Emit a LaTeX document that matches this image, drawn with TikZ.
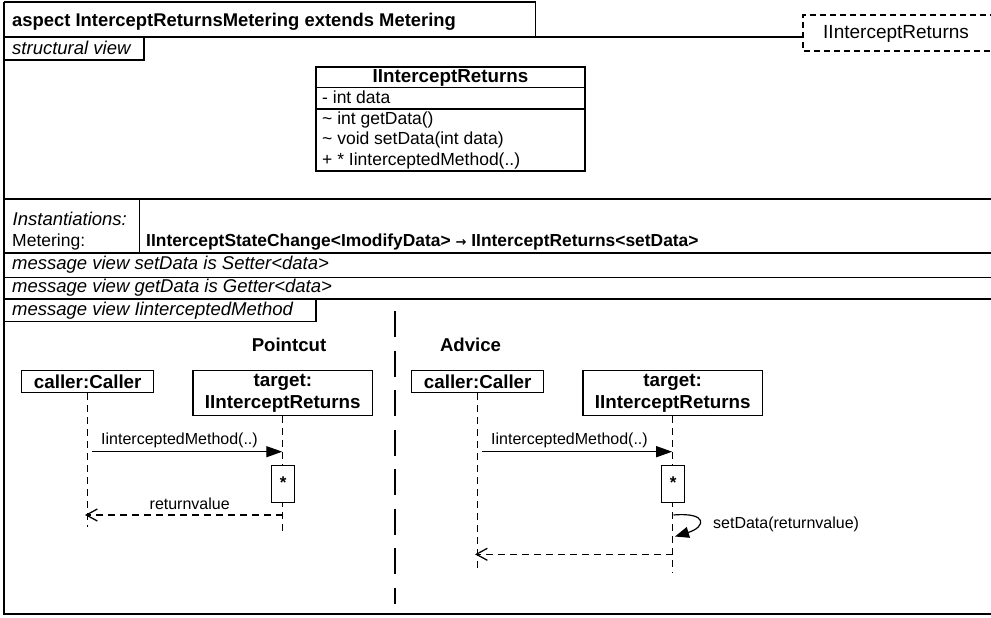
\documentclass[tikz,border=0pt]{standalone}
\usepackage{fontspec}
\setmainfont{Liberation Sans}
\newfontfamily\symfont{DejaVu Sans}
\usetikzlibrary{arrows.meta}
\begin{document}
\begin{tikzpicture}[x=1pt,y=-1pt,
  frame/.style={line width=1.3pt, draw=black},
  thick frame/.style={line width=2pt, draw=black},
  txt/.style={inner sep=0pt, anchor=base west},
  ctxt/.style={inner sep=0pt, anchor=base},
  itl/.style={txt, font=\fontsize{18.5}{22}\selectfont\itshape},
  boldtitle/.style={txt, font=\fontsize{18.4}{22}\selectfont\bfseries},
  clsrow/.style={txt, font=\fontsize{17.5}{21}\selectfont},
  heading/.style={ctxt, font=\fontsize{18.6}{22}\selectfont\bfseries},
  objbox/.style={draw, line width=1.3pt, fill=white, inner sep=0pt, align=center,
     font=\fontsize{18.8}{21.5}\selectfont\bfseries},
  actbox/.style={draw, line width=1.3pt, fill=white, inner sep=0pt, minimum width=23pt, minimum height=36.6pt},
  startxt/.style={ctxt, font=\fontsize{17}{19}\selectfont\bfseries},
  msglbl/.style={ctxt, font=\fontsize{16}{19}\selectfont},
  life/.style={line width=1.2pt, dash pattern=on 7pt off 5pt},
  msg/.style={line width=1.2pt, -{Triangle[length=16pt,width=11pt]}},
  ret/.style={line width=1.2pt, dash pattern=on 7pt off 5pt, -{Straight Barb[length=11pt,width=12pt,line width=1.3pt]}},
  divider/.style={line width=1.6pt, dash pattern=on 26pt off 13.5pt}
]
\useasboundingbox (0,0) rectangle (991,618);
\clip (0,0) rectangle (991,618);

% ---------- outer frame and compartments ----------
\draw[frame] (4,2) -- (535.5,2) -- (535.5,37);
\draw[frame] (4,2) -- (4,614) -- (995,614);
\draw[frame] (4,37) -- (803,37);
\draw[line width=1.3pt, dash pattern=on 6pt off 4pt] (996,15) -- (803,15) -- (803,51) -- (996,51);
\draw[frame] (4,60) -- (144,60) -- (144,37);
\draw[frame] (4,199) -- (996,199);
\draw[frame] (139.5,199) -- (139.5,253);
\draw[thick frame] (4,253) -- (996,253);
\draw[frame] (4,277.5) -- (996,277.5);
\draw[frame] (4,299) -- (996,299);
\draw[frame] (4,321.5) -- (316,321.5) -- (316,299);

% ---------- texts of the frame ----------
\node[boldtitle] (title) at (12,26.5) {aspect InterceptReturnsMetering extends Metering};
\node[txt, font=\fontsize{19}{22}\selectfont] (param) at (823,39) {IInterceptReturns};
\node[itl] (structview) at (12,54.5) {structural view};

% ---------- class box ----------
\node[draw, line width=1.3pt, inner sep=0pt, minimum width=269pt, minimum height=104pt] (cls) at (450.5,119) {};
\draw[frame] (316,87.5) -- (585,87.5);
\draw[frame] (316,109) -- (585,109);
\node[ctxt, font=\fontsize{18.8}{22}\selectfont\bfseries] (clsname) at (450.5,82.5) {IInterceptReturns};
\node[clsrow] (attr) at (322,103.5) {- int data};
\node[clsrow] (op1) at (322,124.5) {\textasciitilde{} int getData()};
\node[clsrow] (op2) at (322,144.5) {\textasciitilde{} void setData(int data)};
\node[clsrow] (op3) at (322,165) {+ * IinterceptedMethod(..)};

% ---------- instantiations ----------
\node[itl] (inst) at (12.5,225.3) {Instantiations:};
\node[txt, font=\fontsize{17.5}{21}\selectfont] (meter) at (12,246.3) {Metering:};
\node[txt, font=\fontsize{17.4}{21}\selectfont\bfseries] (mapping) at (146,246.3)
  {IInterceptStateChange<ImodifyData> {\symfont\fontsize{13}{15}\selectfont →} IInterceptReturns<setData>};

% ---------- message views ----------
\node[itl] (mv1) at (12,269.7) {message view setData is Setter<data>};
\node[itl] (mv2) at (12,292) {message view getData is Getter<data>};
\node[itl] (mv3) at (12,315.5) {message view IinterceptedMethod};

\coordinate (divtop) at (395,311);
\coordinate (divbot) at (395,604);
\draw[divider] (divtop) -- (divbot);

\node[heading] (pointcut) at (289,351.6) {Pointcut};
\node[heading] (advice) at (470.5,351.6) {Advice};

% ---------- pointcut sequence ----------
\node[objbox, minimum width=132pt, minimum height=22pt] (pcaller) at (87.7,381.7) {caller:Caller};
\node[objbox, minimum width=179.7pt, minimum height=45pt] (ptarget) at (282.8,393.2) {target:\\IInterceptReturns};
\coordinate (pcallerend) at (87.7,527);
\coordinate (ptargetend) at (282.8,531);
\draw[life] (pcaller.south) -- (pcallerend);
\draw[life] (ptarget.south) -- (ptargetend);
\node[actbox] (pact) at (283.2,484) {};
\node[startxt] (pstar) at (283.2,488.5) {*};
\coordinate (pm1s) at (92.3,451.7);
\coordinate (pm1e) at (282.3,451.7);
\draw[msg] (pm1s) -- (pm1e);
\node[msglbl] (pm1l) at (179.5,444) {IinterceptedMethod(..)};
\coordinate (pr1s) at (282.8,515);
\coordinate (pr1e) at (85,515);
\draw[ret] (pr1s) -- (pr1e);
\node[msglbl] (pr1l) at (189.7,509) {returnvalue};

% ---------- advice sequence ----------
\node[objbox, minimum width=132pt, minimum height=22pt] (acaller) at (477.7,381.7) {caller:Caller};
\node[objbox, minimum width=179.3pt, minimum height=45pt] (atarget) at (672.7,393.2) {target:\\IInterceptReturns};
\coordinate (acallerend) at (477.7,573.3);
\coordinate (atargetend) at (672.7,573.3);
\draw[life] (acaller.south) -- (acallerend);
\draw[life] (atarget.south) -- (atargetend);
\node[actbox] (aact) at (673.2,484) {};
\node[startxt] (astar) at (673.2,488.5) {*};
\coordinate (am1s) at (482.3,451.7);
\coordinate (am1e) at (672.2,451.7);
\draw[msg] (am1s) -- (am1e);
\node[msglbl] (am1l) at (569.5,444) {IinterceptedMethod(..)};
\coordinate (sc1) at (673.5,515);
\coordinate (sc2) at (675,536.5);
\draw[line width=1.2pt, -{Triangle[length=14pt,width=11pt]}] (sc1) .. controls (708,512) and (706,527) .. (sc2);
\node[txt, font=\fontsize{16}{19}\selectfont] (scl) at (713,528) {setData(returnvalue)};
\coordinate (ar1s) at (672.7,554.3);
\coordinate (ar1e) at (475,554.3);
\draw[ret] (ar1s) -- (ar1e);
\end{tikzpicture}
\end{document}
